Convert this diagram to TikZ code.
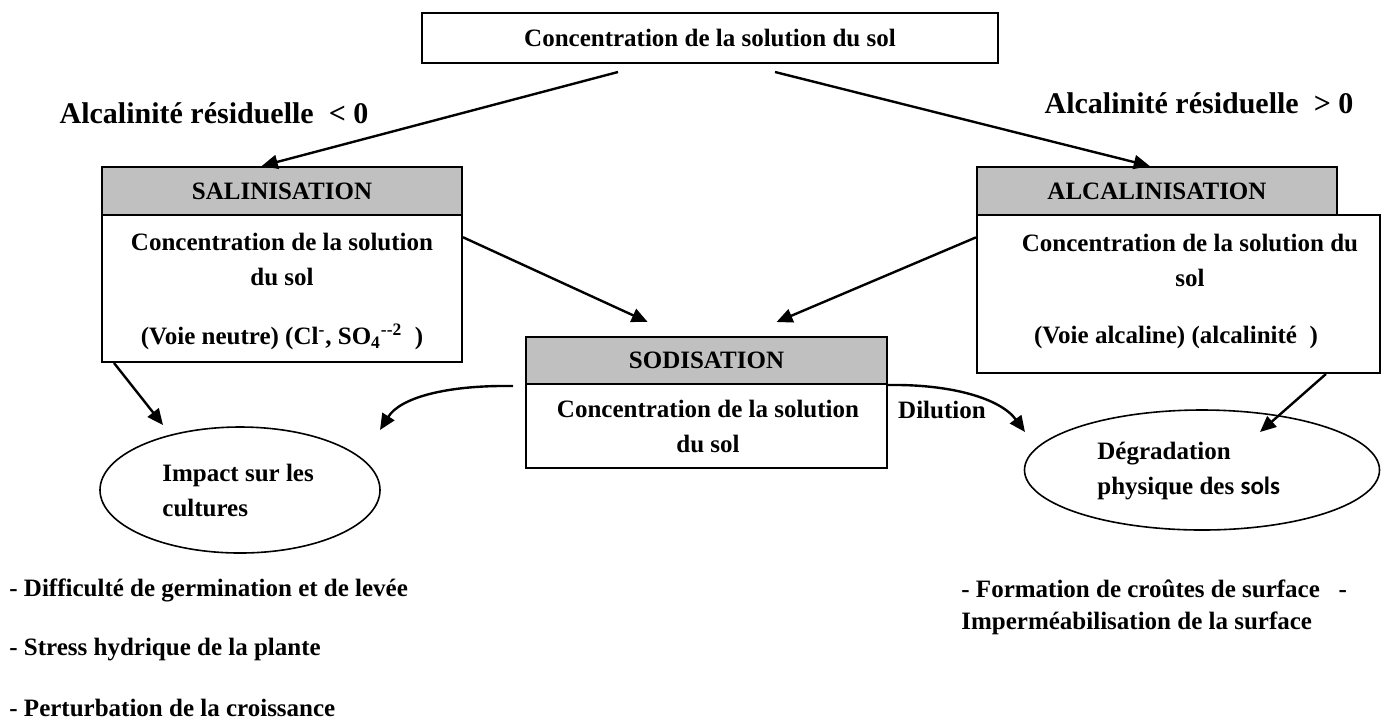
\documentclass[tikz,border=0pt]{standalone}
\usepackage{fontspec}
\setmainfont{Liberation Serif}
\newfontfamily\calfont{Carlito}
\usetikzlibrary{arrows.meta,calc,shapes.geometric}
\definecolor{hgray}{HTML}{C0C0C0}
\begin{document}
\begin{tikzpicture}[x=0.5pt,y=-0.5pt,
  every node/.style={font=\bfseries\fontsize{12.5}{17.5}\selectfont, inner sep=0pt},
  box/.style={draw, line width=1pt, rectangle},
  hdr/.style={box, fill=hgray},
  oval/.style={draw, ellipse, line width=0.8pt},
  arr/.style={line width=1.2pt, -{Triangle[length=8pt,width=7pt]}},
  big/.style={font=\bfseries\fontsize{15}{18}\selectfont},
]
\useasboundingbox (0,0) rectangle (1387,720);

% top box
\node[box, minimum width=288pt, minimum height=25pt] (top) at (710,38) {Concentration de la solution du sol};

% labels
\node[big] (labL) at (214,113) {Alcalinité résiduelle~~<~0};
\node[big] (labR) at (1199,103) {Alcalinité résiduelle~~>~0};

% salinisation
\node[hdr, minimum width=180pt, minimum height=24pt] (salh) at (282,191) {SALINISATION};
\node[box, minimum width=180pt, minimum height=73.5pt] (salb) at (282,288.5) {};
\node[align=center] (salt1) at (282,259.5) {Concentration de la solution\\du sol};
\node (salt2) at (282,337) {(Voie neutre) (Cl\textsuperscript{-}, SO\textsubscript{4}\textsuperscript{-{}-2}~~)};

% alcalinisation
\node[hdr, minimum width=180pt, minimum height=24pt] (alch) at (1157,191) {ALCALINISATION};
\node[box, minimum width=201.5pt, minimum height=79pt] (alcb) at (1178.5,294) {};
\node[align=center] (alct1) at (1190,260) {Concentration de la solution du\\sol};
\node (alct2) at (1176,337) {(Voie alcaline) (alcalinité~~)};

% sodisation
\node[hdr, minimum width=180.5pt, minimum height=23.5pt] (sodh) at (706.5,360.5) {SODISATION};
\node[box, minimum width=180.5pt, minimum height=42pt] (sodb) at (706.5,426) {};
\node[align=center] (sodt) at (708,426.5) {Concentration de la solution\\du sol};
\node (dil) at (942,410) {Dilution};

% ellipses
\node[oval, minimum width=140pt, minimum height=63pt] (imp) at (240,490) {};
\node[align=left, anchor=west] (impt) at (162,490) {Impact sur les\\cultures};
\node[oval, minimum width=177.5pt, minimum height=60pt] (deg) at (1202,470) {};
\node[align=left, anchor=west] (degt) at (1097,470.5) {Dégradation\\physique des {\calfont sols}};

% bottom texts
\node[anchor=west] (b1) at (9,590) {- Difficulté de germination et de levée};
\node[anchor=west] (b2) at (9,650) {- Stress hydrique de la plante};
\node[anchor=west] (b3) at (9,708) {- Perturbation de la croissance};
\node[align=left, anchor=west, font=\bfseries\fontsize{12.5}{16}\selectfont] (b4) at (961,607) {- Formation de croûtes de surface~~~-\\Imperméabilisation de la surface};

% connectors
\coordinate (s1) at (618,72);
\coordinate (s2) at (775,72);
\draw[arr] (s1) -- ($(salh.north west)!0.444!(salh.north east)$);
\draw[arr] (s2) -- ($(alch.north west)!0.48!(alch.north east)$);
\draw[arr] ($(salb.north east)!0.156!(salb.south east)$) -- ($(sodh.north west)!0.338!(sodh.north east)+(0,-14)$);
\draw[arr] ($(alcb.north west)!0.146!(alcb.south west)$) -- ($(sodh.north west)!0.693!(sodh.north east)+(0,-14)$);
\coordinate (e1) at (163,425);
\draw[arr] ($(salb.south west)!0.036!(salb.south east)$) -- (e1);
\coordinate (e2) at (1260,432);
\draw[arr] ($(alcb.south west)!0.864!(alcb.south east)$) -- (e2);
\coordinate (c1) at ($(sodh.south west)+(-12,1)$);
\coordinate (e3) at (380,430);
\draw[arr] (c1) .. controls (445,385) and (400,398) .. (e3);
\coordinate (e4) at (1025,432);
\draw[arr] (sodh.south east) .. controls (950,384) and (1000,398) .. (e4);
\end{tikzpicture}
\end{document}
